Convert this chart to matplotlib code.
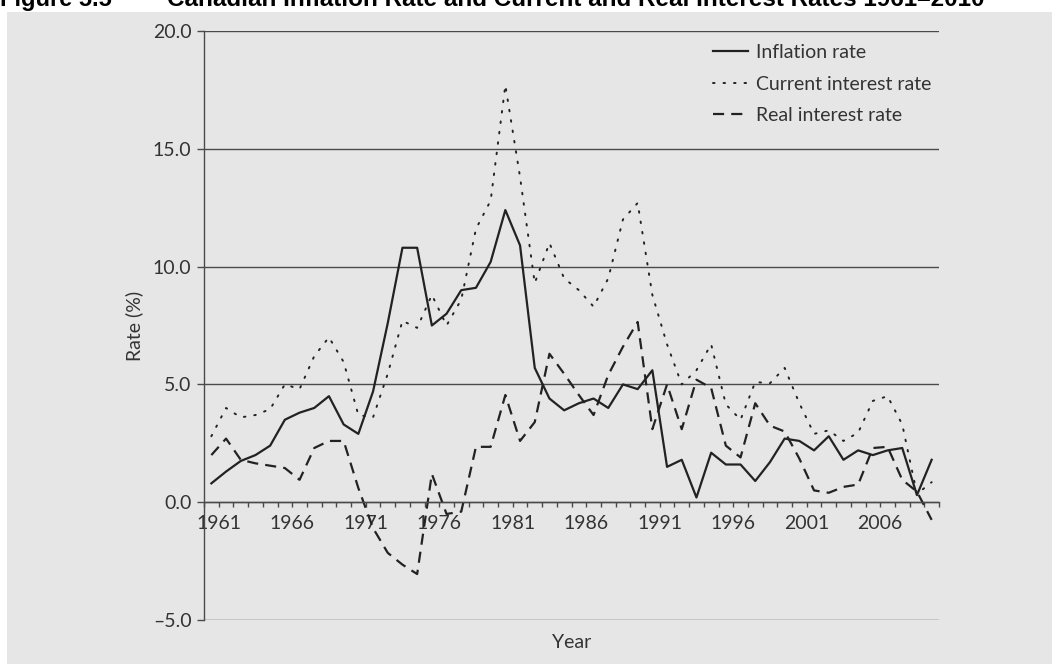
import matplotlib
matplotlib.use("Agg")
import matplotlib.pyplot as plt
from matplotlib.patches import Rectangle
from matplotlib.ticker import FuncFormatter

# Canadian rates, 1961-2010 (%)
years = list(range(1961, 2011))

inflation = [0.8, 1.3, 1.75, 2.0, 2.4, 3.5, 3.8, 4.0, 4.5, 3.3,
             2.9, 4.7, 7.6, 10.8, 10.8, 7.5, 8.0, 9.0, 9.1, 10.2,
             12.4, 10.9, 5.7, 4.4, 3.9, 4.2, 4.4, 4.0, 5.0, 4.8,
             5.6, 1.5, 1.8, 0.2, 2.1, 1.6, 1.6, 0.9, 1.7, 2.7,
             2.6, 2.2, 2.8, 1.8, 2.2, 2.0, 2.2, 2.3, 0.3, 1.8]

current_rate = [2.8, 4.0, 3.6, 3.7, 3.95, 5.0, 4.8, 6.2, 7.0, 5.95,
                3.7, 3.6, 5.45, 7.7, 7.4, 8.8, 7.5, 8.6, 11.6, 12.8,
                17.7, 13.8, 9.3, 11.0, 9.5, 9.0, 8.3, 9.5, 12.0, 12.7,
                8.8, 6.7, 5.0, 5.6, 6.7, 4.15, 3.5, 5.1, 5.05, 5.7,
                4.2, 2.9, 3.05, 2.6, 2.95, 4.3, 4.5, 3.3, 0.35, 0.85]

real_rate = [2.0, 2.7, 1.8, 1.65, 1.55, 1.45, 0.95, 2.3, 2.6, 2.6,
             0.6, -1.1, -2.15, -2.65, -3.05, 1.2, -0.5, -0.4, 2.35, 2.35,
             4.55, 2.6, 3.4, 6.3, 5.45, 4.55, 3.7, 5.4, 6.6, 7.65,
             3.1, 5.0, 3.1, 5.2, 4.85, 2.4, 1.9, 4.2, 3.25, 3.0,
             1.85, 0.5, 0.4, 0.65, 0.75, 2.3, 2.35, 0.95, 0.45, -0.75]

label_years = [1961, 1966, 1971, 1976, 1981, 1986, 1991, 1996, 2001, 2006]
y_ticks = [-5.0, 0.0, 5.0, 10.0, 15.0, 20.0]

BG = "#e6e6e6"
INK = "#222222"
TXT = "#333333"
GRID = "#4a4a4a"

plt.rcParams["font.family"] = ["Lato", "DejaVu Sans"]

fig = plt.figure(figsize=(10.59, 6.64), dpi=100, facecolor="white")
# grey panel behind the chart, leaving a white strip for the caption
fig.patches.append(Rectangle((7 / 1059, 0), 1045 / 1059, 652 / 664,
                             transform=fig.transFigure, facecolor=BG,
                             edgecolor="none", zorder=-5))

fig.text(0.0, 1 - 6 / 664, "Figure 5.5", fontsize=17, fontweight="bold",
         family="Liberation Sans", color="black", va="baseline", zorder=-4)
fig.text(167 / 1059, 1 - 6 / 664,
         "Canadian Inflation Rate and Current and Real Interest Rates 1961\u20132010",
         fontsize=17.5, fontweight="bold", family="Liberation Sans",
         color="black", va="baseline", zorder=-4)

ax = fig.add_axes([204 / 1059, 44 / 664, 735 / 1059, 589 / 664])
ax.set_facecolor(BG)

ax.plot(years, inflation, color=INK, lw=1.6, ls="-", label="Inflation rate")
ax.plot(years, current_rate, color=INK, lw=1.4, ls=(0, (0.8, 4.6)),
        dash_capstyle="round", label="Current interest rate")
ax.plot(years, real_rate, color=INK, lw=1.6, ls=(0, (5, 3.2)),
        label="Real interest rate")

ax.set_xlim(1960.5, 2010.5)
ax.set_ylim(-5, 20)

for v in y_ticks:
    ax.axhline(v, color=GRID, lw=1.0, zorder=0.5)

for side in ("top", "right"):
    ax.spines[side].set_visible(False)
ax.spines["left"].set_color(GRID)
ax.spines["left"].set_linewidth(1.0)
ax.spines["bottom"].set_position(("data", 0))
ax.spines["bottom"].set_color(GRID)
ax.spines["bottom"].set_linewidth(1.0)

ax.set_yticks(y_ticks)
ax.yaxis.set_major_formatter(FuncFormatter(
    lambda v, p: f"{v:.1f}".replace("-", "\u2013")))
ax.tick_params(axis="y", direction="out", length=5, width=1.0, color=GRID,
               labelsize=14, labelcolor=TXT, pad=4)

# year ticks sit on the boundaries between years, labels on the tick after each year
ax.set_xticks([y + 0.5 for y in [1960] + years])
ax.set_xticklabels([str(y) if y in label_years else "" for y in [1960] + years])
ax.tick_params(axis="x", direction="out", length=3.5, width=1.0, color=GRID,
               labelsize=14, labelcolor=TXT, pad=6)

ax.set_ylabel("Rate (%)", fontsize=14, color=TXT, labelpad=7)
fig.text(572 / 1059, 1 - 642 / 664, "Year", fontsize=14, color=TXT,
         ha="center", va="center")

ax.legend(loc="upper left", bbox_to_anchor=(713 / 1059, 1 - 44 / 664),
          bbox_transform=fig.transFigure, frameon=False, fontsize=14,
          handlelength=1.8, handletextpad=0.4, labelspacing=0.75,
          borderpad=0, borderaxespad=0, labelcolor=TXT)

fig.savefig("out.png", dpi=100, facecolor="white")
